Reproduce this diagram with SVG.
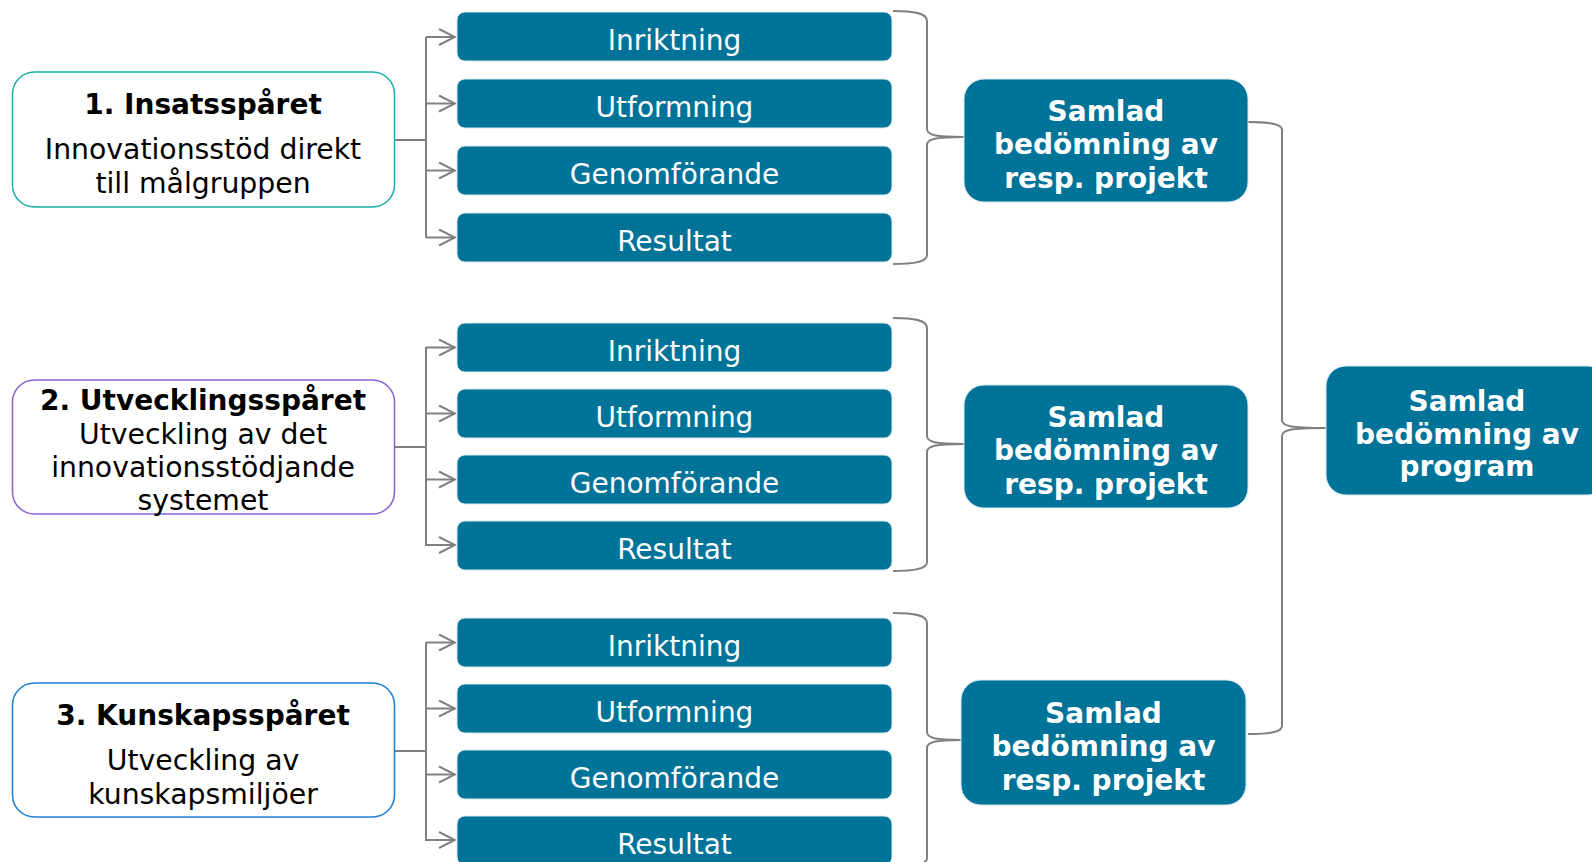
<svg xmlns="http://www.w3.org/2000/svg" width="1592" height="862" viewBox="0 0 1592 862">
<defs>
<marker id="arr" viewBox="0 0 20 20" refX="18" refY="10" markerWidth="20" markerHeight="20" markerUnits="userSpaceOnUse" orient="auto">
<path d="M2,2 L18,10 L2,18" fill="none" stroke="#808080" stroke-width="2"/>
</marker>
<style>
text{font-family:"DejaVu Sans",Verdana,sans-serif;text-anchor:middle}
.track{fill:#fff;stroke-width:1.5}
.ttl{font-size:28px;font-weight:bold;fill:#000}
.sub{font-size:28.3px;fill:#000}
.step{fill:#007399;stroke:#d4e8ef;stroke-width:1}
.stept{font-size:28px;fill:#fff}
.sum{fill:#007399;stroke:#d4e8ef;stroke-width:1}
.sumt{font-size:28px;font-weight:bold;fill:#fff}
.con{fill:none;stroke:#808080;stroke-width:2}
</style>
</defs>
<rect width="1592" height="862" fill="#fff"/>

<g id="connectors">
<!-- group 1 -->
<path class="con" d="M394,140 H426 M426,37 V238"/>
<path class="con" marker-end="url(#arr)" d="M426,37 H455"/>
<path class="con" marker-end="url(#arr)" d="M426,103.5 H455"/>
<path class="con" marker-end="url(#arr)" d="M426,170.5 H455"/>
<path class="con" marker-end="url(#arr)" d="M426,237.5 H455"/>
<!-- group 2 -->
<path class="con" d="M394,447 H426 M426,347 V546"/>
<path class="con" marker-end="url(#arr)" d="M426,347.5 H455"/>
<path class="con" marker-end="url(#arr)" d="M426,413.5 H455"/>
<path class="con" marker-end="url(#arr)" d="M426,479.5 H455"/>
<path class="con" marker-end="url(#arr)" d="M426,545 H455"/>
<!-- group 3 -->
<path class="con" d="M394,751 H426 M426,642 V841"/>
<path class="con" marker-end="url(#arr)" d="M426,642.5 H455"/>
<path class="con" marker-end="url(#arr)" d="M426,708.5 H455"/>
<path class="con" marker-end="url(#arr)" d="M426,774.5 H455"/>
<path class="con" marker-end="url(#arr)" d="M426,840 H455"/>
<!-- braces -->
<path class="con" d="M893,11 C914,11 927,13 927,21 L927,129 C927,135 935,137 964,137 M964,137 C935,137 927,139 927,145 L927,255 C927,262 914,264 893,264"/>
<path class="con" d="M893,318 C914,318 927,320 927,328 L927,436 C927,442 935,444 964,444 M964,444 C935,444 927,446 927,452 L927,562 C927,569 914,571 893,571"/>
<path class="con" d="M893,613 C914,613 927,615 927,623 L927,732 C927,738 935,740 962,740 M962,740 C935,740 927,742 927,748 L927,858 C927,865 914,867 893,867"/>
<path class="con" d="M1248,122 C1270,122 1282,124 1282,130 L1282,420 C1282,426 1290,428 1326,428 M1326,428 C1290,428 1282,430 1282,436 L1282,726 C1282,732 1270,734 1248,734"/>
</g>

<g id="track1">
<rect class="track" x="12.5" y="72" width="382" height="135" rx="22" stroke="#1aaea7"/>
<text class="ttl" x="203" y="114">1. Insatsspåret</text>
<text class="sub" x="203" y="159">Innovationsstöd direkt</text>
<text class="sub" x="203" y="193">till målgruppen</text>
</g>
<g id="track2">
<rect class="track" x="12.5" y="380" width="382" height="134" rx="22" stroke="#8a62d0"/>
<text class="ttl" x="203" y="410">2. Utvecklingsspåret</text>
<text class="sub" x="203" y="444">Utveckling av det</text>
<text class="sub" x="203" y="477">innovationsstödjande</text>
<text class="sub" x="203" y="510">systemet</text>
</g>
<g id="track3">
<rect class="track" x="12.5" y="683" width="382" height="134" rx="22" stroke="#1c7fd1"/>
<text class="ttl" x="203" y="725">3. Kunskapsspåret</text>
<text class="sub" x="203" y="770">Utveckling av</text>
<text class="sub" x="203" y="804">kunskapsmiljöer</text>
</g>

<g id="g1-inriktning"><rect class="step" x="457" y="12" width="435" height="49" rx="8"/><text class="stept" x="674.5" y="50">Inriktning</text></g>
<g id="g1-utformning"><rect class="step" x="457" y="79" width="435" height="49" rx="8"/><text class="stept" x="674.5" y="117">Utformning</text></g>
<g id="g1-genomforande"><rect class="step" x="457" y="146" width="435" height="49" rx="8"/><text class="stept" x="674.5" y="184">Genomförande</text></g>
<g id="g1-resultat"><rect class="step" x="457" y="213" width="435" height="49" rx="8"/><text class="stept" x="674.5" y="251">Resultat</text></g>

<g id="g2-inriktning"><rect class="step" x="457" y="323" width="435" height="49" rx="8"/><text class="stept" x="674.5" y="361">Inriktning</text></g>
<g id="g2-utformning"><rect class="step" x="457" y="389" width="435" height="49" rx="8"/><text class="stept" x="674.5" y="427">Utformning</text></g>
<g id="g2-genomforande"><rect class="step" x="457" y="455" width="435" height="49" rx="8"/><text class="stept" x="674.5" y="493">Genomförande</text></g>
<g id="g2-resultat"><rect class="step" x="457" y="521" width="435" height="49" rx="8"/><text class="stept" x="674.5" y="559">Resultat</text></g>

<g id="g3-inriktning"><rect class="step" x="457" y="618" width="435" height="49" rx="8"/><text class="stept" x="674.5" y="656">Inriktning</text></g>
<g id="g3-utformning"><rect class="step" x="457" y="684" width="435" height="49" rx="8"/><text class="stept" x="674.5" y="722">Utformning</text></g>
<g id="g3-genomforande"><rect class="step" x="457" y="750" width="435" height="49" rx="8"/><text class="stept" x="674.5" y="788">Genomförande</text></g>
<g id="g3-resultat"><rect class="step" x="457" y="816" width="435" height="49" rx="8"/><text class="stept" x="674.5" y="854">Resultat</text></g>

<g id="samlad1">
<rect class="sum" x="964" y="79" width="284" height="123" rx="20"/>
<text class="sumt" x="1106" y="121">Samlad</text>
<text class="sumt" x="1106" y="154">bedömning av</text>
<text class="sumt" x="1106" y="188">resp. projekt</text>
</g>
<g id="samlad2">
<rect class="sum" x="964" y="385" width="284" height="123" rx="20"/>
<text class="sumt" x="1106" y="427">Samlad</text>
<text class="sumt" x="1106" y="460">bedömning av</text>
<text class="sumt" x="1106" y="494">resp. projekt</text>
</g>
<g id="samlad3">
<rect class="sum" x="961" y="680" width="285" height="125" rx="20"/>
<text class="sumt" x="1103.5" y="723">Samlad</text>
<text class="sumt" x="1103.5" y="756">bedömning av</text>
<text class="sumt" x="1103.5" y="790">resp. projekt</text>
</g>
<g id="program">
<rect class="sum" x="1326" y="366" width="282" height="129" rx="20"/>
<text class="sumt" x="1467" y="411">Samlad</text>
<text class="sumt" x="1467" y="444">bedömning av</text>
<text class="sumt" x="1467" y="476">program</text>
</g>
</svg>
